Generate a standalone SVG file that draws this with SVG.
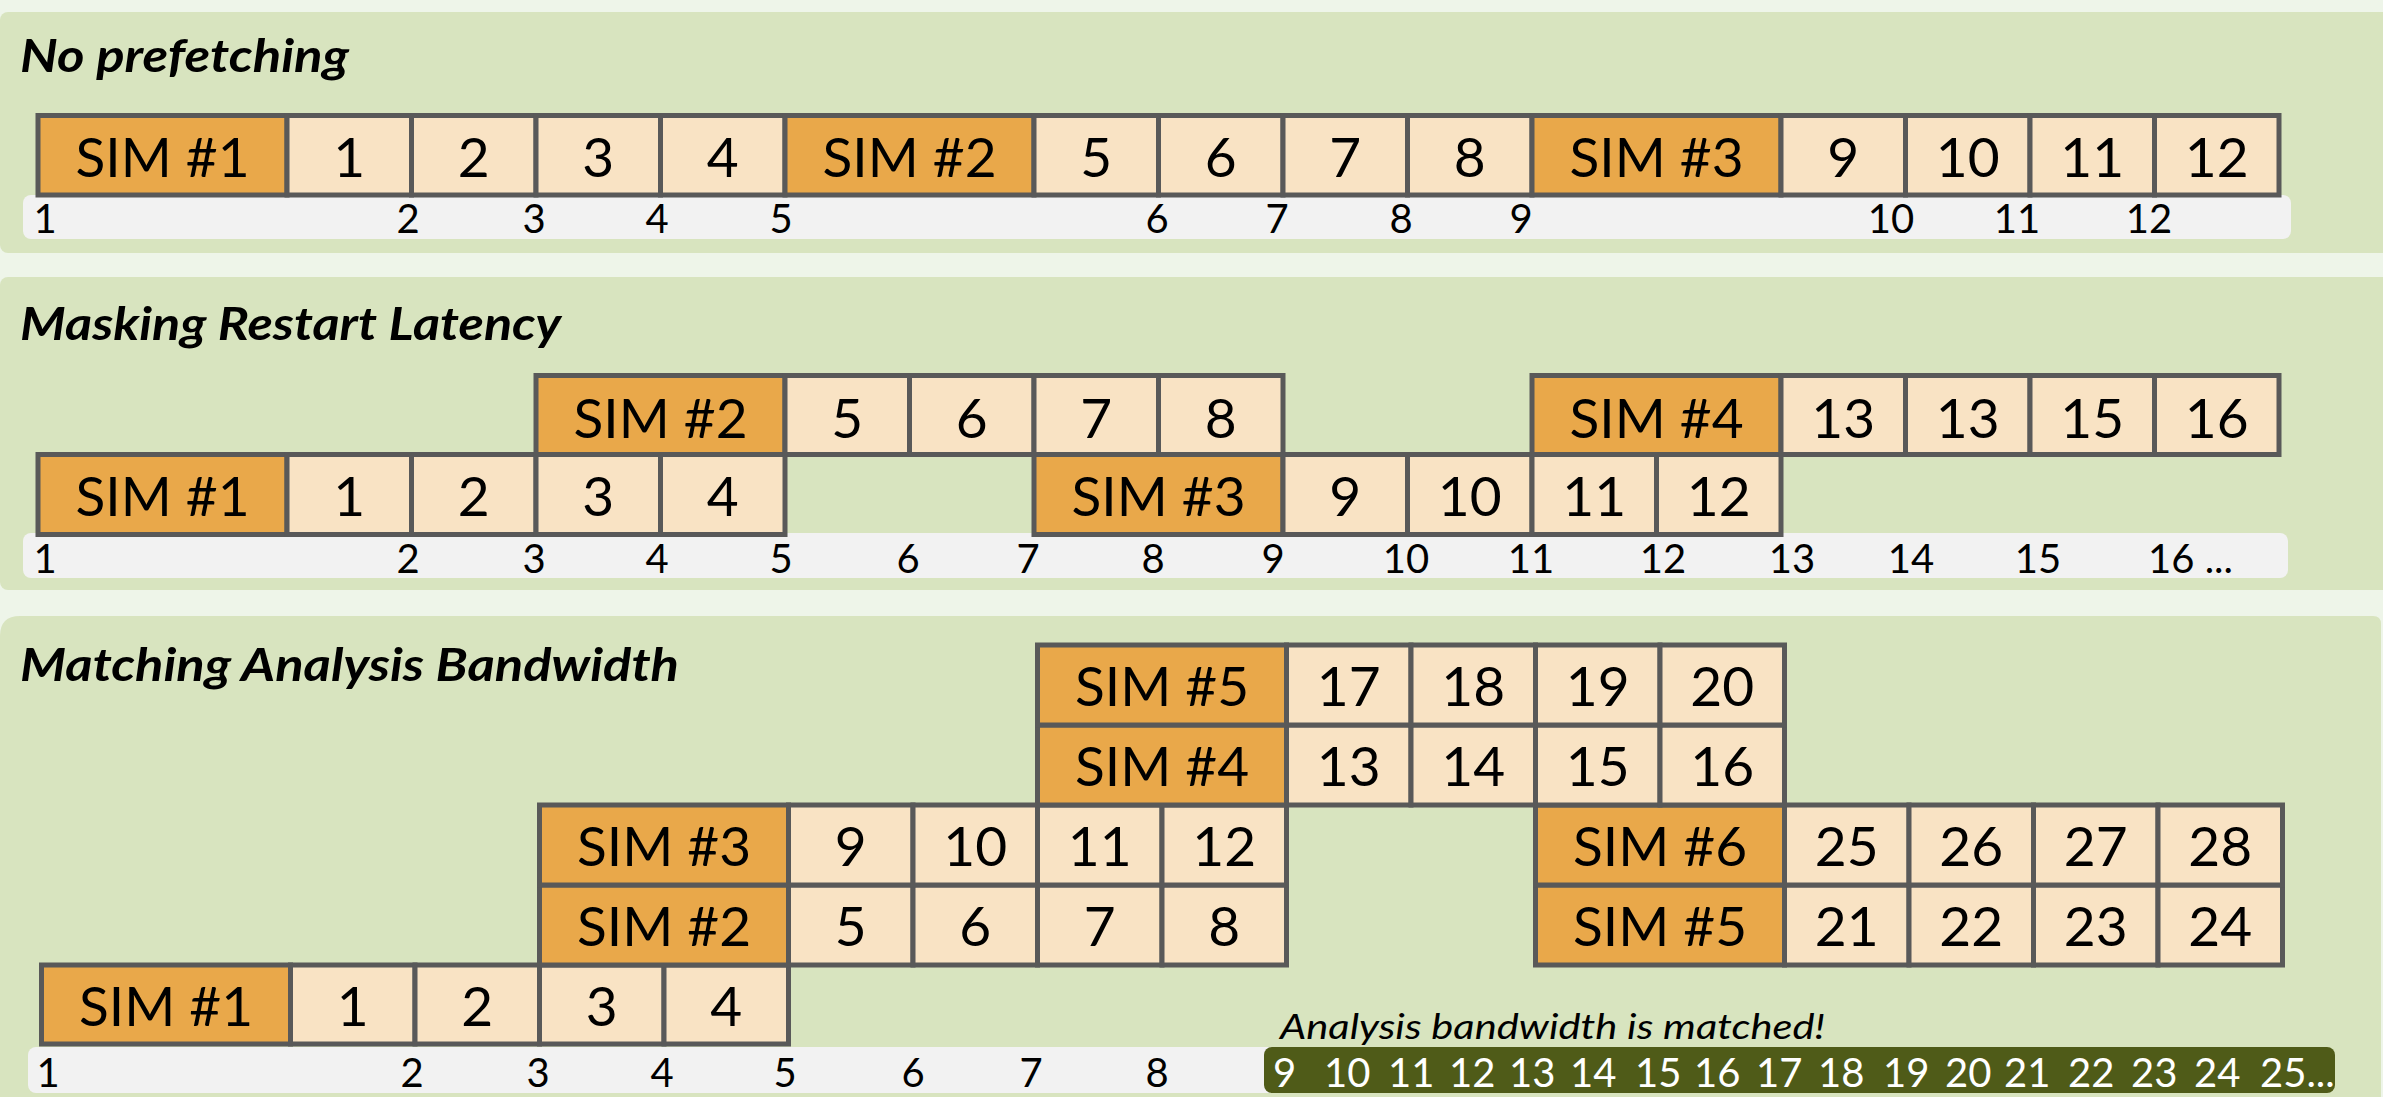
<svg xmlns="http://www.w3.org/2000/svg" width="2383" height="1097" viewBox="0 0 2383 1097">
<style>
.pg{fill:#EEF5E9}
.pn{fill:#D8E4BF}
.st{fill:#F2F2F2}
.sim{fill:#E9A84A;stroke:#595959;stroke-width:5}
.an{fill:#F9E3C4;stroke:#595959;stroke-width:5}
.cl{font-family:Lato,"Liberation Sans",sans-serif;font-size:55px;text-anchor:middle;fill:#000}
.tk{font-family:Lato,"Liberation Sans",sans-serif;font-size:40px;text-anchor:middle;fill:#000}
.tw{font-family:Lato,"Liberation Sans",sans-serif;font-size:40px;fill:#FFFFFF}
.ttl{font-family:Lato,"Liberation Sans",sans-serif;font-size:46px;font-weight:bold;font-style:italic;fill:#000}
.note{font-family:Lato,"Liberation Sans",sans-serif;font-size:34px;font-style:italic;fill:#000}
</style>
<rect class="pg" x="0" y="0" width="2383" height="1097"/>

<!-- Panel 1 -->
<g id="panel-no-prefetching">
<rect class="pn" x="0" y="12" width="2420" height="241" rx="8"/>
<text class="ttl" x="20" y="72" textLength="329" lengthAdjust="spacingAndGlyphs">No prefetching</text>
<rect class="st" x="23" y="195" width="2268" height="44" rx="8"/>
<g id="p1-timeline">
<text class="tk" x="45" y="233">1</text>
<text class="tk" x="408" y="233">2</text>
<text class="tk" x="534" y="233">3</text>
<text class="tk" x="657" y="233">4</text>
<text class="tk" x="781" y="233">5</text>
<text class="tk" x="1157" y="233">6</text>
<text class="tk" x="1277" y="233">7</text>
<text class="tk" x="1401" y="233">8</text>
<text class="tk" x="1521" y="233">9</text>
<text class="tk" x="1891" y="233">10</text>
<text class="tk" x="2017" y="233">11</text>
<text class="tk" x="2149" y="233">12</text>
</g>
<g id="p1-sim1"><rect class="sim" x="38" y="115.5" width="249" height="79.5"/><text class="cl" x="162.5" y="177">SIM #1</text></g>
<g id="p1-a1"><rect class="an" x="287" y="115.5" width="124.5" height="79.5"/><text class="cl" x="349.25" y="177">1</text></g>
<g id="p1-a2"><rect class="an" x="411.5" y="115.5" width="124.5" height="79.5"/><text class="cl" x="473.75" y="177">2</text></g>
<g id="p1-a3"><rect class="an" x="536" y="115.5" width="124.5" height="79.5"/><text class="cl" x="598.25" y="177">3</text></g>
<g id="p1-a4"><rect class="an" x="660.5" y="115.5" width="124.5" height="79.5"/><text class="cl" x="722.75" y="177">4</text></g>
<g id="p1-sim2"><rect class="sim" x="785" y="115.5" width="249" height="79.5"/><text class="cl" x="909.5" y="177">SIM #2</text></g>
<g id="p1-a5"><rect class="an" x="1034" y="115.5" width="124.5" height="79.5"/><text class="cl" x="1096.25" y="177">5</text></g>
<g id="p1-a6"><rect class="an" x="1158.5" y="115.5" width="124.5" height="79.5"/><text class="cl" x="1220.75" y="177">6</text></g>
<g id="p1-a7"><rect class="an" x="1283" y="115.5" width="124.5" height="79.5"/><text class="cl" x="1345.25" y="177">7</text></g>
<g id="p1-a8"><rect class="an" x="1407.5" y="115.5" width="124.5" height="79.5"/><text class="cl" x="1469.75" y="177">8</text></g>
<g id="p1-sim3"><rect class="sim" x="1532" y="115.5" width="249" height="79.5"/><text class="cl" x="1656.5" y="177">SIM #3</text></g>
<g id="p1-a9"><rect class="an" x="1781" y="115.5" width="124.5" height="79.5"/><text class="cl" x="1843.25" y="177">9</text></g>
<g id="p1-a10"><rect class="an" x="1905.5" y="115.5" width="124.5" height="79.5"/><text class="cl" x="1967.75" y="177">10</text></g>
<g id="p1-a11"><rect class="an" x="2030" y="115.5" width="124.5" height="79.5"/><text class="cl" x="2092.25" y="177">11</text></g>
<g id="p1-a12"><rect class="an" x="2154.5" y="115.5" width="124.5" height="79.5"/><text class="cl" x="2216.75" y="177">12</text></g>
</g>

<!-- Panel 2 -->
<g id="panel-masking">
<rect class="pn" x="0" y="277" width="2420" height="313" rx="8"/>
<text class="ttl" x="20" y="340" textLength="541" lengthAdjust="spacingAndGlyphs">Masking Restart Latency</text>
<rect class="st" x="23" y="533" width="2265" height="45" rx="8"/>
<g id="p2-timeline">
<text class="tk" x="45" y="573">1</text>
<text class="tk" x="408" y="573">2</text>
<text class="tk" x="534" y="573">3</text>
<text class="tk" x="657" y="573">4</text>
<text class="tk" x="781" y="573">5</text>
<text class="tk" x="908" y="573">6</text>
<text class="tk" x="1028" y="573">7</text>
<text class="tk" x="1153" y="573">8</text>
<text class="tk" x="1273" y="573">9</text>
<text class="tk" x="1406" y="573">10</text>
<text class="tk" x="1531" y="573">11</text>
<text class="tk" x="1663" y="573">12</text>
<text class="tk" x="1792" y="573">13</text>
<text class="tk" x="1911" y="573">14</text>
<text class="tk" x="2038" y="573">15</text>
<text class="tk" x="2148" y="573" style="text-anchor:start">16 ...</text>
</g>
<g id="p2-sim1"><rect class="sim" x="38" y="454.5" width="249" height="80"/><text class="cl" x="162.5" y="516">SIM #1</text></g>
<g id="p2-a1"><rect class="an" x="287" y="454.5" width="124.5" height="80"/><text class="cl" x="349.25" y="516">1</text></g>
<g id="p2-a2"><rect class="an" x="411.5" y="454.5" width="124.5" height="80"/><text class="cl" x="473.75" y="516">2</text></g>
<g id="p2-a3"><rect class="an" x="536" y="454.5" width="124.5" height="80"/><text class="cl" x="598.25" y="516">3</text></g>
<g id="p2-a4"><rect class="an" x="660.5" y="454.5" width="124.5" height="80"/><text class="cl" x="722.75" y="516">4</text></g>
<g id="p2-sim3"><rect class="sim" x="1034" y="454.5" width="249" height="80"/><text class="cl" x="1158.5" y="516">SIM #3</text></g>
<g id="p2-a9"><rect class="an" x="1283" y="454.5" width="124.5" height="80"/><text class="cl" x="1345.25" y="516">9</text></g>
<g id="p2-a10"><rect class="an" x="1407.5" y="454.5" width="124.5" height="80"/><text class="cl" x="1469.75" y="516">10</text></g>
<g id="p2-a11"><rect class="an" x="1532" y="454.5" width="124.5" height="80"/><text class="cl" x="1594.25" y="516">11</text></g>
<g id="p2-a12"><rect class="an" x="1656.5" y="454.5" width="124.5" height="80"/><text class="cl" x="1718.75" y="516">12</text></g>
<g id="p2-sim2"><rect class="sim" x="536" y="375.5" width="249" height="79"/><text class="cl" x="660.5" y="437.5">SIM #2</text></g>
<g id="p2-a5"><rect class="an" x="785" y="375.5" width="124.5" height="79"/><text class="cl" x="847.25" y="437.5">5</text></g>
<g id="p2-a6"><rect class="an" x="909.5" y="375.5" width="124.5" height="79"/><text class="cl" x="971.75" y="437.5">6</text></g>
<g id="p2-a7"><rect class="an" x="1034" y="375.5" width="124.5" height="79"/><text class="cl" x="1096.25" y="437.5">7</text></g>
<g id="p2-a8"><rect class="an" x="1158.5" y="375.5" width="124.5" height="79"/><text class="cl" x="1220.75" y="437.5">8</text></g>
<g id="p2-sim4"><rect class="sim" x="1532" y="375.5" width="249" height="79"/><text class="cl" x="1656.5" y="437.5">SIM #4</text></g>
<g id="p2-a13"><rect class="an" x="1781" y="375.5" width="124.5" height="79"/><text class="cl" x="1843.25" y="437.5">13</text></g>
<g id="p2-a13b"><rect class="an" x="1905.5" y="375.5" width="124.5" height="79"/><text class="cl" x="1967.75" y="437.5">13</text></g>
<g id="p2-a15"><rect class="an" x="2030" y="375.5" width="124.5" height="79"/><text class="cl" x="2092.25" y="437.5">15</text></g>
<g id="p2-a16"><rect class="an" x="2154.5" y="375.5" width="124.5" height="79"/><text class="cl" x="2216.75" y="437.5">16</text></g>
</g>

<!-- Panel 3 -->
<g id="panel-matching">
<path class="pn" d="M0 636 Q0 616 20 616 L2373 616 Q2381 616 2381 624 L2381 1110 L0 1110 Z"/>
<text class="ttl" x="20" y="681" textLength="659" lengthAdjust="spacingAndGlyphs">Matching Analysis Bandwidth</text>
<rect class="st" x="28" y="1047" width="1260" height="46" rx="8"/>
<rect id="matched-strip" x="1264" y="1047" width="1071" height="46" rx="8" fill="#4F5B18"/>
<text class="note" x="1280" y="1039" textLength="545" lengthAdjust="spacingAndGlyphs">Analysis bandwidth is matched!</text>
<g id="p3-timeline">
<text class="tk" x="48" y="1087">1</text>
<text class="tk" x="412" y="1087">2</text>
<text class="tk" x="538" y="1087">3</text>
<text class="tk" x="662" y="1087">4</text>
<text class="tk" x="785" y="1087">5</text>
<text class="tk" x="913" y="1087">6</text>
<text class="tk" x="1031" y="1087">7</text>
<text class="tk" x="1157" y="1087">8</text>
<text class="tw" y="1087"><tspan x="1273">9</tspan><tspan x="1324">10</tspan><tspan x="1388">11</tspan><tspan x="1449">12</tspan><tspan x="1509">13</tspan><tspan x="1570">14</tspan><tspan x="1635">15</tspan><tspan x="1694">16</tspan><tspan x="1756">17</tspan><tspan x="1818">18</tspan><tspan x="1883">19</tspan><tspan x="1945">20</tspan><tspan x="2004">21</tspan><tspan x="2068">22</tspan><tspan x="2131">23</tspan><tspan x="2194">24</tspan><tspan x="2260">25...</tspan></text>
</g>
<!-- Row E -->
<g id="p3-sim1"><rect class="sim" x="41.5" y="965" width="249" height="79"/><text class="cl" x="166" y="1026">SIM #1</text></g>
<g id="p3-a1"><rect class="an" x="290.5" y="965" width="124.5" height="79"/><text class="cl" x="352.75" y="1026">1</text></g>
<g id="p3-a2"><rect class="an" x="415" y="965" width="124.5" height="79"/><text class="cl" x="477.25" y="1026">2</text></g>
<g id="p3-a3"><rect class="an" x="539.5" y="965" width="124.5" height="79"/><text class="cl" x="601.75" y="1026">3</text></g>
<g id="p3-a4"><rect class="an" x="664" y="965" width="124.5" height="79"/><text class="cl" x="726.25" y="1026">4</text></g>
<!-- Row D -->
<g id="p3-sim2"><rect class="sim" x="539.5" y="885" width="249" height="80"/><text class="cl" x="664" y="946">SIM #2</text></g>
<g id="p3-a5"><rect class="an" x="788.5" y="885" width="124.5" height="80"/><text class="cl" x="850.75" y="946">5</text></g>
<g id="p3-a6"><rect class="an" x="913" y="885" width="124.5" height="80"/><text class="cl" x="975.25" y="946">6</text></g>
<g id="p3-a7"><rect class="an" x="1037.5" y="885" width="124.5" height="80"/><text class="cl" x="1099.75" y="946">7</text></g>
<g id="p3-a8"><rect class="an" x="1162" y="885" width="124.5" height="80"/><text class="cl" x="1224.25" y="946">8</text></g>
<g id="p3-sim5b"><rect class="sim" x="1535.5" y="885" width="249" height="80"/><text class="cl" x="1660" y="946">SIM #5</text></g>
<g id="p3-a21"><rect class="an" x="1784.5" y="885" width="124.5" height="80"/><text class="cl" x="1846.75" y="946">21</text></g>
<g id="p3-a22"><rect class="an" x="1909" y="885" width="124.5" height="80"/><text class="cl" x="1971.25" y="946">22</text></g>
<g id="p3-a23"><rect class="an" x="2033.5" y="885" width="124.5" height="80"/><text class="cl" x="2095.75" y="946">23</text></g>
<g id="p3-a24"><rect class="an" x="2158" y="885" width="124.5" height="80"/><text class="cl" x="2220.25" y="946">24</text></g>
<!-- Row C -->
<g id="p3-sim3"><rect class="sim" x="539.5" y="805" width="249" height="80"/><text class="cl" x="664" y="866">SIM #3</text></g>
<g id="p3-a9"><rect class="an" x="788.5" y="805" width="124.5" height="80"/><text class="cl" x="850.75" y="866">9</text></g>
<g id="p3-a10"><rect class="an" x="913" y="805" width="124.5" height="80"/><text class="cl" x="975.25" y="866">10</text></g>
<g id="p3-a11"><rect class="an" x="1037.5" y="805" width="124.5" height="80"/><text class="cl" x="1099.75" y="866">11</text></g>
<g id="p3-a12"><rect class="an" x="1162" y="805" width="124.5" height="80"/><text class="cl" x="1224.25" y="866">12</text></g>
<g id="p3-sim6"><rect class="sim" x="1535.5" y="805" width="249" height="80"/><text class="cl" x="1660" y="866">SIM #6</text></g>
<g id="p3-a25"><rect class="an" x="1784.5" y="805" width="124.5" height="80"/><text class="cl" x="1846.75" y="866">25</text></g>
<g id="p3-a26"><rect class="an" x="1909" y="805" width="124.5" height="80"/><text class="cl" x="1971.25" y="866">26</text></g>
<g id="p3-a27"><rect class="an" x="2033.5" y="805" width="124.5" height="80"/><text class="cl" x="2095.75" y="866">27</text></g>
<g id="p3-a28"><rect class="an" x="2158" y="805" width="124.5" height="80"/><text class="cl" x="2220.25" y="866">28</text></g>
<!-- Row B -->
<g id="p3-sim4"><rect class="sim" x="1037.5" y="725" width="249" height="80"/><text class="cl" x="1162" y="786">SIM #4</text></g>
<g id="p3-a13"><rect class="an" x="1286.5" y="725" width="124.5" height="80"/><text class="cl" x="1348.75" y="786">13</text></g>
<g id="p3-a14"><rect class="an" x="1411" y="725" width="124.5" height="80"/><text class="cl" x="1473.25" y="786">14</text></g>
<g id="p3-a15"><rect class="an" x="1535.5" y="725" width="124.5" height="80"/><text class="cl" x="1597.75" y="786">15</text></g>
<g id="p3-a16"><rect class="an" x="1660" y="725" width="124.5" height="80"/><text class="cl" x="1722.25" y="786">16</text></g>
<!-- Row A -->
<g id="p3-sim5"><rect class="sim" x="1037.5" y="645" width="249" height="80"/><text class="cl" x="1162" y="706">SIM #5</text></g>
<g id="p3-a17"><rect class="an" x="1286.5" y="645" width="124.5" height="80"/><text class="cl" x="1348.75" y="706">17</text></g>
<g id="p3-a18"><rect class="an" x="1411" y="645" width="124.5" height="80"/><text class="cl" x="1473.25" y="706">18</text></g>
<g id="p3-a19"><rect class="an" x="1535.5" y="645" width="124.5" height="80"/><text class="cl" x="1597.75" y="706">19</text></g>
<g id="p3-a20"><rect class="an" x="1660" y="645" width="124.5" height="80"/><text class="cl" x="1722.25" y="706">20</text></g>
</g>
<g id="connectors"/>
</svg>
